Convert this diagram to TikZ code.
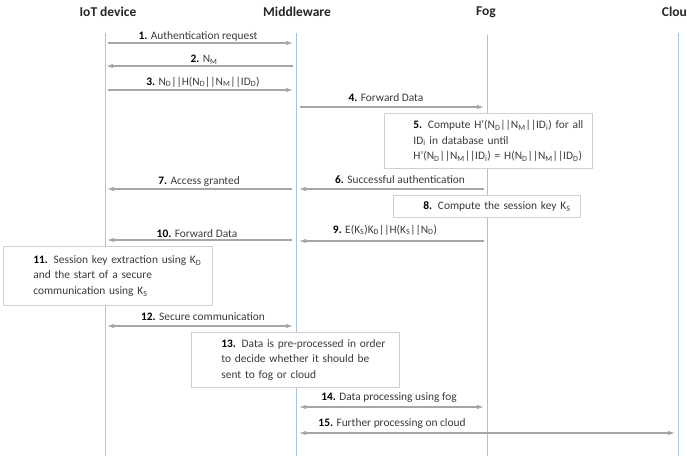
\documentclass[tikz,border=0pt]{standalone}
\usepackage{fontspec}
\setmainfont{Carlito}
\usetikzlibrary{arrows.meta}
\definecolor{lifeblue}{HTML}{A7C3DF}
\definecolor{arrgray}{HTML}{A6A6A6}
\definecolor{boxgray}{HTML}{CFCFCF}
\definecolor{txtgray}{HTML}{3A3A3A}
\newcommand{\sbs}[1]{\textsubscript{#1}}
\newcommand{\stepnum}[1]{\textbf{\color{black}#1}}
\newcommand{\ind}[1]{\hspace*{#1}}
\tikzset{
  head/.style={font=\bfseries\fontsize{13.5}{15}\selectfont, text=black!85, inner sep=0pt},
  life/.style={draw=lifeblue, line width=0.9pt},
  msg/.style={draw=arrgray, line width=1.1pt, -{Latex[length=7pt,width=4.5pt]}},
  bmsg/.style={draw=arrgray, line width=1.1pt, {Latex[length=7pt,width=4.5pt]}-{Latex[length=7pt,width=4.5pt]}},
  lbl/.style={font=\fontsize{11.4}{13}\selectfont, text=txtgray, inner sep=0pt},
  notebox/.style={draw=boxgray, line width=0.8pt, fill=white, inner xsep=2pt, inner ysep=0pt,
    align=left, anchor=north west, font=\fontsize{11.4}{15.5}\selectfont, text=txtgray}
}
\begin{document}
\begin{tikzpicture}[x=1pt,y=-1pt]
\useasboundingbox (0,0) rectangle (687,456);
\clip (0,0) rectangle (687,456);

% headings
\node[head] (hI) at (108,12) {IoT device};
\node[head] (hM) at (297,12) {Middleware};
\node[head] (hF) at (486,12) {Fog};
\node[head] (hC) at (678,12) {Cloud};

% lifelines
\coordinate (iT) at (105,33); \coordinate (iB) at (105,456);
\coordinate (mT) at (296,33); \coordinate (mB) at (296,456);
\coordinate (fT) at (487,35); \coordinate (fB) at (487,456);
\coordinate (cT) at (678,33); \coordinate (cB) at (678,456);
\draw[life] (iT) -- (iB);
\draw[life] (mT) -- (mB);
\draw[life] (fT) -- (fB);
\draw[life] (cT) -- (cB);

% message end points
\coordinate (a1) at (108,43);  \coordinate (b1) at (293,43);
\coordinate (a2) at (293,66);  \coordinate (b2) at (106,66);
\coordinate (a3) at (108,90);  \coordinate (b3) at (293,90);
\coordinate (a4) at (300,107); \coordinate (b4) at (484,107);
\coordinate (a6) at (484,189); \coordinate (b6) at (299,189);
\coordinate (a7) at (292,189); \coordinate (b7) at (107,189);
\coordinate (a9) at (484,241); \coordinate (b9) at (299,241);
\coordinate (a10) at (292,240); \coordinate (b10) at (107,240);
\coordinate (a12) at (107,326); \coordinate (b12) at (293,326);
\coordinate (a14) at (299,407); \coordinate (b14) at (484,407);
\coordinate (a15) at (299,433); \coordinate (b15) at (675,433);

\draw[msg] (a1) -- (b1);
\draw[msg] (a2) -- (b2);
\draw[msg] (a3) -- (b3);
\draw[msg] (a4) -- (b4);
\draw[msg] (a6) -- (b6);
\draw[msg] (a7) -- (b7);
\draw[msg] (a9) -- (b9);
\draw[msg] (a10) -- (b10);
\draw[bmsg] (a12) -- (b12);
\draw[bmsg] (a14) -- (b14);
\draw[bmsg] (a15) -- (b15);

% labels
\node[lbl] (l1) at (198,36) {\stepnum{1.} Authentication request};
\node[lbl] (l2) at (204,60) {\stepnum{2.} N\sbs{M}};
\node[lbl] (l3) at (203,82) {\stepnum{3.} N\sbs{D}||H(N\sbs{D}||N\sbs{M}||ID\sbs{D})};
\node[lbl] (l4) at (386,98) {\stepnum{4.} Forward Data};
\node[lbl] (l6) at (400,180) {\stepnum{6.} Successful authentication};
\node[lbl] (l7) at (199,182) {\stepnum{7.} Access granted};
\node[lbl] (l9) at (385,230) {\stepnum{9.} E(K\sbs{S})K\sbs{D}||H(K\sbs{S}||N\sbs{D})};
\node[lbl] (l10) at (197,234) {\stepnum{10.} Forward Data};
\node[lbl] (l12) at (203,317) {\stepnum{12.} Secure communication};
\node[lbl] (l14) at (389,398) {\stepnum{14.} Data processing using fog};
\node[lbl] (l15) at (392,424) {\stepnum{15.} Further processing on cloud};

% note boxes
\node[notebox, minimum width=208, minimum height=55, text width=204] (n5) at (384,113)
  {\ind{27pt}\mbox{\stepnum{5.} Compute H’(N\sbs{D}||N\sbs{M}||ID\sbs{i}) for all}\\
   \ind{27pt}\mbox{ID\sbs{i} in database until}\\
   \ind{27pt}\mbox{H’(N\sbs{D}||N\sbs{M}||ID\sbs{i}) = H(N\sbs{D}||N\sbs{M}||ID\sbs{D})}};
\node[notebox, minimum width=187, minimum height=22, text width=183] (n8) at (393,195)
  {\ind{28pt}\mbox{\stepnum{8.} Compute the session key K\sbs{S}}};
\node[notebox, minimum width=209, minimum height=59, text width=205] (n11) at (3,246)
  {\ind{28pt}\mbox{\stepnum{11.} Session key extraction using K\sbs{D}}\\
   \ind{28pt}\mbox{and the start of a secure}\\
   \ind{28pt}\mbox{communication using K\sbs{S}}};
\node[notebox, minimum width=208, minimum height=55, text width=204] (n13) at (191,332)
  {\ind{28pt}\mbox{\stepnum{13.} Data is pre-processed in order}\\
   \ind{28pt}\mbox{to decide whether it should be}\\
   \ind{28pt}\mbox{sent to fog or cloud}};
\end{tikzpicture}
\end{document}
